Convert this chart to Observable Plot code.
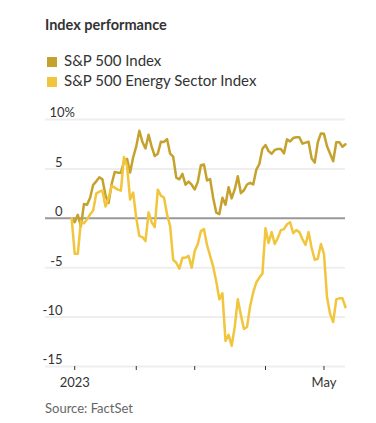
<!DOCTYPE html>
<html>
<head>
<meta charset="utf-8">
<script src="https://cdn.jsdelivr.net/npm/d3@7"></script>
<script src="https://cdn.jsdelivr.net/npm/@observablehq/plot@0.6"></script>
<style>
  html, body { margin: 0; padding: 0; background: #fff; }
  body { width: 376px; height: 423px; position: relative; font-family: Lato, "Noto Sans", sans-serif; color: #333; }
  .title { position: absolute; left: 45px; top: 18.4px; font-size: 14.5px; line-height: 1; font-weight: 700; color: #333; white-space: nowrap; }
  .leg { position: absolute; left: 64px; font-size: 15px; line-height: 1; color: #333; white-space: nowrap; }
  .sw { position: absolute; left: 47px; width: 9.5px; height: 9.5px; }
  .src { position: absolute; left: 45px; top: 401.8px; font-size: 13px; line-height: 1; color: #666; white-space: nowrap; }
  #chart { position: absolute; left: 0; top: 95px; }
</style>
</head>
<body>
<div class="title">Index performance</div>
<div class="sw" id="sw1" style="top:57px"></div><div class="leg" id="lg1" style="top:53px"></div>
<div class="sw" id="sw2" style="top:77px"></div><div class="leg" id="lg2" style="top:73px"></div>
<div id="chart"></div>
<div class="src">Source: FactSet</div>
<script>
const seriesNames = ["S&P 500 Index", "S&P 500 Energy Sector Index"];
const seriesColors = ["#c4a22d", "#f1c53c"];

const dates = [
  "2022-12-30",
  "2023-01-03","2023-01-04","2023-01-05","2023-01-06","2023-01-09","2023-01-10","2023-01-11","2023-01-12","2023-01-13","2023-01-17",
  "2023-01-18","2023-01-19","2023-01-20","2023-01-23","2023-01-24","2023-01-25","2023-01-26","2023-01-27","2023-01-30","2023-01-31",
  "2023-02-01","2023-02-02","2023-02-03","2023-02-06","2023-02-07","2023-02-08","2023-02-09","2023-02-10","2023-02-13","2023-02-14",
  "2023-02-15","2023-02-16","2023-02-17","2023-02-21","2023-02-22","2023-02-23","2023-02-24","2023-02-27","2023-02-28",
  "2023-03-01","2023-03-02","2023-03-03","2023-03-06","2023-03-07","2023-03-08","2023-03-09","2023-03-10","2023-03-13","2023-03-14",
  "2023-03-15","2023-03-16","2023-03-17","2023-03-20","2023-03-21","2023-03-22","2023-03-23","2023-03-24","2023-03-27","2023-03-28",
  "2023-03-29","2023-03-30","2023-03-31",
  "2023-04-03","2023-04-04","2023-04-05","2023-04-06","2023-04-10","2023-04-11","2023-04-12","2023-04-13","2023-04-14","2023-04-17",
  "2023-04-18","2023-04-19","2023-04-20","2023-04-21","2023-04-24","2023-04-25","2023-04-26","2023-04-27","2023-04-28",
  "2023-05-01","2023-05-02","2023-05-03","2023-05-04","2023-05-05","2023-05-08","2023-05-09","2023-05-10"
];

const sp500 = [
  0,
  -0.4, 0.35, -0.82, 1.45, 1.37, 2.08, 3.39, 3.74, 4.16, 3.94,
  2.33, 1.55, 3.47, 4.69, 4.62, 4.6, 5.75, 6.02, 4.64, 6.18,
  7.28, 8.86, 7.73, 7.07, 8.45, 7.25, 6.3, 6.54, 7.75, 7.73,
  8.02, 6.54, 6.24, 4.11, 3.95, 4.5, 3.4, 3.72, 3.4,
  2.91, 3.69, 5.37, 5.44, 3.83, 3.97, 2.05, 0.58, 0.42, 2.08,
  1.37, 3.15, 2.01, 2.92, 4.25, 2.54, 2.84, 3.42, 3.59, 3.43,
  4.9, 5.5, 7.03,
  7.42, 6.8, 6.53, 6.92, 7.02, 7.02, 6.57, 7.99, 7.77, 8.12,
  8.21, 8.2, 7.56, 7.66, 7.75, 6.05, 5.64, 7.7, 8.59,
  8.55, 7.29, 6.54, 5.77, 7.7, 7.7, 7.25, 7.5
];

const energy = [
  0,
  -3.6, -3.6, -0.3, -0.5, -0.1, 0.4, 0.8, 2.5, 2.7, 2.8,
  1.2, 2.0, 3.3, 3.1, 2.9, 2.8, 6.2, 5.3, 1.9, 2.6,
  0.0, -1.8, -1.9, -2.3, 0.6, -0.4, -0.9, 2.9, 2.3, 2.1,
  0.4, -0.8, -4.2, -4.5, -5.1, -4.0, -4.0, -3.8, -5.0,
  -3.3, -2.6, -1.3, -1.1, -2.7, -3.8, -4.9, -6.4, -8.2, -7.6,
  -12.4, -11.8, -12.9, -11.0, -8.2, -9.8, -11.2, -11.0, -8.9, -7.5,
  -6.5, -6.0, -5.6,
  -1.0, -2.5, -1.4, -2.6, -2.0, -1.2, -1.1, -0.6, -0.4, -1.5,
  -1.2, -1.4, -2.1, -2.7, -1.4, -3.0, -4.2, -4.1, -2.6,
  -3.6, -8.0, -9.7, -10.5, -8.2, -8.1, -8.1, -9.0
];

const tickDates = ["2023-01-03", "2023-02-01", "2023-03-01", "2023-04-03", "2023-05-01"];
const tickLabels = ["2023", "", "", "", "May"];
const yTicks = [10, 5, 0, -5, -10, -15];

document.getElementById("lg1").textContent = seriesNames[0];
document.getElementById("lg2").textContent = seriesNames[1];
document.getElementById("sw1").style.background = seriesColors[0];
document.getElementById("sw2").style.background = seriesColors[1];

const data = dates.map((d, i) => ({i, date: d, sp: sp500[i], en: energy[i]}));
const tickIdx = tickDates.map(d => dates.indexOf(d));
const fmtY = d => (d < 0 ? "-" + (-d) : String(d));

const chart = Plot.plot({
  width: 376,
  height: 300,
  marginLeft: 45,
  marginRight: 31,
  marginTop: 24,
  marginBottom: 29,
  style: {fontFamily: "Lato, sans-serif", fontSize: "13px", color: "#333", background: "transparent"},
  x: {type: "linear", domain: [-8.5, 89], label: null},
  y: {domain: [-15, 10], label: null},
  marks: [
    Plot.ruleY(yTicks.filter(d => d !== 0), {stroke: "#eeeeee", strokeWidth: 2}),
    Plot.ruleY([0], {stroke: "#999999", strokeWidth: 2}),
    Plot.axisY(yTicks.filter(d => d !== 10), {anchor: "left", label: null, tickSize: 0, tickPadding: 0, dx: 17, dy: -6.2, tickFormat: fmtY, fill: "#333"}),
    Plot.axisY([10], {anchor: "left", label: null, tickSize: 0, tickPadding: 0, textAnchor: "start", dx: 4, dy: -6.2, tickFormat: d => d + "%", fill: "#333"}),
    Plot.axisX(tickIdx, {anchor: "bottom", label: null, tickSize: 4, tickPadding: 7, stroke: "#333", fill: "#333", tickFormat: d => tickLabels[tickIdx.indexOf(d)]}),
    Plot.line(data, {x: "i", y: "sp", stroke: seriesColors[0], strokeWidth: 2.5, strokeLinejoin: "round"}),
    Plot.line(data, {x: "i", y: "en", stroke: seriesColors[1], strokeWidth: 2.5, strokeLinejoin: "round"})
  ]
});
document.getElementById("chart").appendChild(chart);
</script>
</body>
</html>
